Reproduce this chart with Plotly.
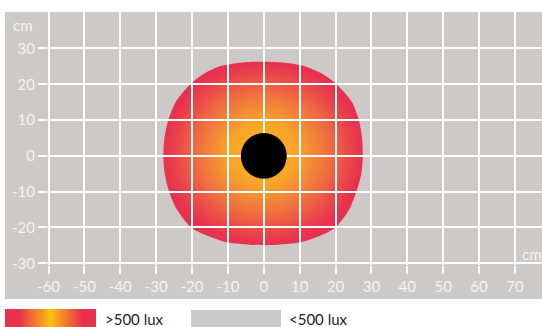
import plotly.graph_objects as go

W, H = 542, 327

# grid ticks, cm
x_ticks = [-60, -50, -40, -30, -20, -10, 0, 10, 20, 30, 40, 50, 60, 70]
y_ticks = [-30, -20, -10, 0, 10, 20, 30]

# outline of the >500 lux zone, cm
zone_x = [27.6, 27.4, 26.5, 24.6, 20.3, 16.2, 11.5, 6.0, 0.0, -6.0, -12.0, -16.6,
          -20.5, -24.6, -26.6, -27.7, -28.0, -27.6, -26.4, -24.2, -20.3, -15.0,
          -10.0, -4.0, 0.0, 4.0, 10.0, 15.0, 20.0, 23.8, 25.8, 27.2, 27.6]
zone_y = [0.0, 5.0, 10.0, 15.0, 20.0, 23.0, 25.0, 26.0, 26.3, 26.1, 25.1, 23.0,
          20.0, 15.0, 10.0, 5.0, 0.0, -5.0, -10.0, -15.0, -20.0, -22.6,
          -24.2, -24.8, -24.9, -24.8, -24.2, -22.6, -20.0, -15.0, -10.0, -5.0, 0.0]

# black fixture disc, cm
core_radius = 6.4

legend_labels = [">500 lux", "<500 lux"]

PANEL = "#ccc9c6"
LABEL = "#f4f4f4"
RED = "#e8304f"
YELLOW = "#fcb813"


def px(x):
    return x / W


def py(y):
    return 1 - y / H


x_range = [-60.42, 77.54]
y_range = [-30.34, 40.19]
x_dom = [px(47), 1]
y_dom = [py(264.5), py(12)]

fig = go.Figure()

# lit zone, drawn in the lower subplot so that the grid of the upper one covers it
fig.add_trace(go.Scatter(
    x=zone_x, y=zone_y,
    mode="lines",
    line=dict(width=0, shape="spline", smoothing=0.7),
    fill="toself",
    fillgradient=dict(
        type="radial",
        colorscale=[[0, YELLOW], [0.35, "#f8a22b"], [0.65, "#f0703f"],
                    [0.9, "#e9404c"], [1, RED]],
    ),
    hoverinfo="skip",
    showlegend=False,
    xaxis="x", yaxis="y",
))

# legend swatch with horizontal gradient
fig.add_trace(go.Scatter(
    x=[0, 1, 1, 0, 0], y=[0, 0, 1, 1, 0],
    mode="lines",
    line=dict(width=0),
    fill="toself",
    fillgradient=dict(
        type="horizontal",
        colorscale=[[0, RED], [0.15, RED], [0.5, "#fbbf10"], [0.85, RED], [1, RED]],
    ),
    hoverinfo="skip",
    showlegend=False,
    xaxis="x3", yaxis="y3",
))

axis_common = dict(
    tickfont=dict(family="Lato, sans-serif", size=15, color=LABEL),
    ticks="outside",
    ticklen=8,
    tickwidth=2,
    tickcolor="white",
    showgrid=True,
    gridcolor="white",
    gridwidth=2,
    zeroline=False,
    showline=False,
    automargin=False,
    fixedrange=True,
)

fig.update_layout(
    width=W,
    height=H,
    margin=dict(l=0, r=0, t=0, b=0),
    paper_bgcolor="white",
    plot_bgcolor="rgba(0,0,0,0)",
    showlegend=False,
    xaxis=dict(domain=x_dom, range=x_range, visible=False, anchor="y"),
    yaxis=dict(domain=y_dom, range=y_range, visible=False, anchor="x"),
    xaxis2=dict(domain=x_dom, range=x_range, anchor="y2", tickmode="array",
                tickvals=x_ticks, ticktext=[str(v) for v in x_ticks], **axis_common),
    yaxis2=dict(domain=y_dom, range=y_range, anchor="x2", tickmode="array",
                tickvals=y_ticks, ticktext=[str(v) for v in y_ticks], **axis_common),
    xaxis3=dict(domain=[px(5), px(96)], range=[0, 1], visible=False, anchor="y3"),
    yaxis3=dict(domain=[0, py(309)], range=[0, 1], visible=False, anchor="x3"),
    shapes=[
        dict(type="rect", xref="paper", yref="paper", x0=px(5), x1=1,
             y0=py(299), y1=py(12), fillcolor=PANEL, line_width=0, layer="below"),
        dict(type="rect", xref="paper", yref="paper", x0=px(191), x1=px(281),
             y0=-0.05, y1=py(310), fillcolor=PANEL, line_width=0, layer="below"),
        dict(type="circle", xref="x2", yref="y2", x0=-core_radius, x1=core_radius,
             y0=-core_radius, y1=core_radius, fillcolor="black", line_width=0,
             layer="above"),
    ],
    annotations=[
        dict(text="cm", xref="paper", yref="paper", x=px(11), y=py(25),
             xanchor="left", yanchor="middle", showarrow=False,
             font=dict(family="Lato, sans-serif", size=15, color=LABEL)),
        dict(text="cm", xref="paper", yref="paper", x=px(520), y=py(254),
             xanchor="left", yanchor="middle", showarrow=False,
             font=dict(family="Lato, sans-serif", size=15, color=LABEL)),
        dict(text=legend_labels[0], xref="paper", yref="paper", x=px(103), y=py(319),
             xanchor="left", yanchor="middle", showarrow=False,
             font=dict(family="Lato, sans-serif", size=15, color="#1e1e1e")),
        dict(text=legend_labels[1], xref="paper", yref="paper", x=px(287), y=py(319),
             xanchor="left", yanchor="middle", showarrow=False,
             font=dict(family="Lato, sans-serif", size=15, color="#1e1e1e")),
    ],
)

fig.write_html("out.html", config={"displayModeBar": False},
               post_script="document.body.style.margin='0';")
